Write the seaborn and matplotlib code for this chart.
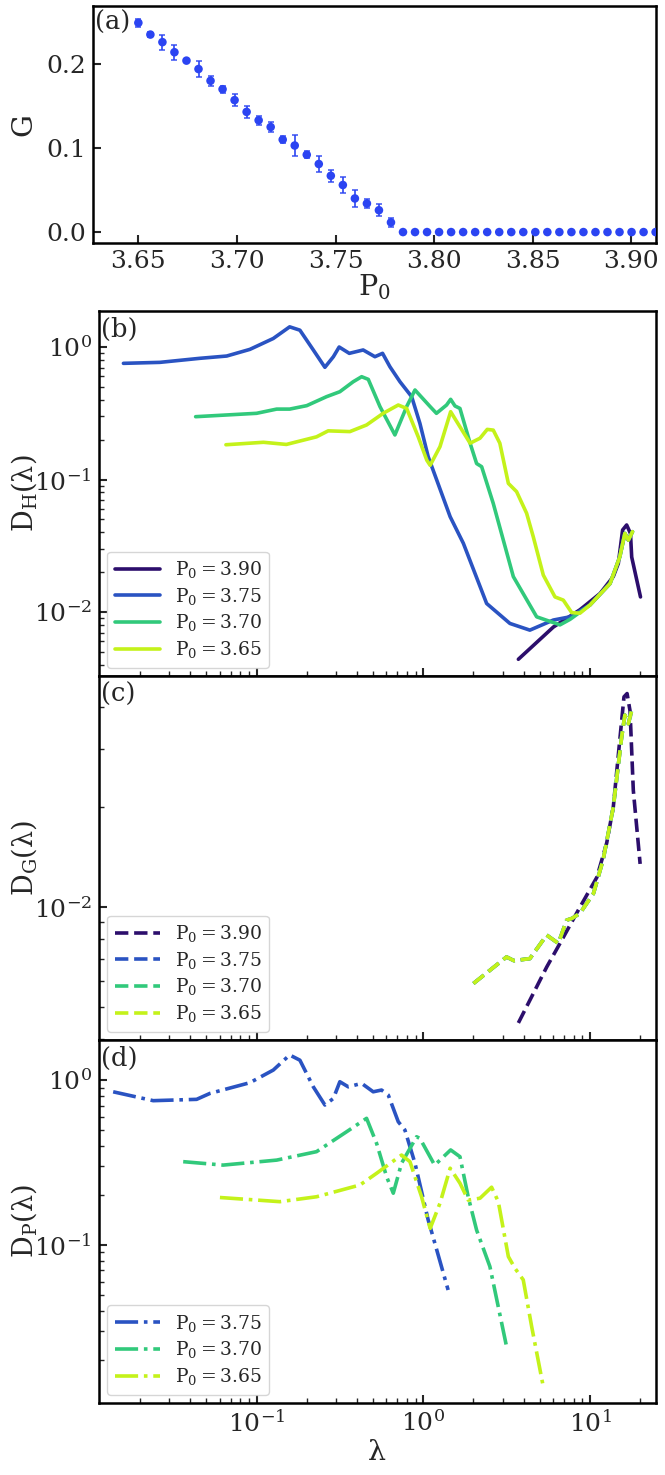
import numpy as np
import pandas as pd
import matplotlib
matplotlib.use("Agg")
import matplotlib.pyplot as plt
import seaborn as sns
from matplotlib.ticker import LogLocator, NullFormatter, FixedLocator, FormatStrFormatter

sns.set_style("ticks")
plt.rcParams["font.family"] = ["DejaVu Serif"]
plt.rcParams["mathtext.fontset"] = "dejavuserif"

# ---------------- data: panel (a) ----------------
P0_grid = [3.6500, 3.6561, 3.6622, 3.6683, 3.6744, 3.6805, 3.6866, 3.6927, 3.6988, 3.7049,
           3.7110, 3.7171, 3.7232, 3.7293, 3.7354, 3.7415, 3.7476, 3.7537, 3.7598, 3.7659,
           3.7720, 3.7781, 3.7842, 3.7903, 3.7964, 3.8025, 3.8086, 3.8147, 3.8208, 3.8269,
           3.8330, 3.8391, 3.8452, 3.8513, 3.8574, 3.8635, 3.8696, 3.8757, 3.8818, 3.8879,
           3.8940, 3.9001, 3.9062, 3.9123]
G_vals = [0.249, 0.235, 0.226, 0.214, 0.204, 0.194, 0.180, 0.170, 0.157, 0.143,
          0.133, 0.125, 0.110, 0.103, 0.092, 0.081, 0.067, 0.056, 0.040, 0.034,
          0.026, 0.0115] + [0.0] * 22
G_err = [0.005, 0.003, 0.009, 0.009, 0.002, 0.010, 0.006, 0.004, 0.007, 0.007,
         0.005, 0.006, 0.004, 0.013, 0.004, 0.010, 0.007, 0.009, 0.010, 0.005,
         0.007, 0.005] + [0.0] * 22

# ---------------- data: panel (b)  D_H ----------------
bH390_x = [3.72, 6.03, 8.71, 11.5, 13.8, 14.8, 15.7, 16.6, 17.5, 17.8, 20.1]
bH390_y = [0.0044, 0.0077, 0.0104, 0.0138, 0.0185, 0.0233, 0.0416, 0.0454, 0.0392, 0.026, 0.013]

bH375_x = [0.0159, 0.0263, 0.0458, 0.0662, 0.0912, 0.126, 0.158, 0.182, 0.219, 0.257,
           0.289, 0.313, 0.360, 0.436, 0.513, 0.570, 0.631, 0.725, 0.852, 0.955,
           1.07, 1.45, 1.74, 2.40, 3.31, 4.36, 6.03, 7.59, 10.0, 13.2, 15.1, 16.2, 17.0, 18.0]
bH375_y = [0.753, 0.766, 0.822, 0.855, 0.96, 1.16, 1.42, 1.34, 0.95, 0.703,
           0.845, 1.0, 0.896, 0.95, 0.845, 0.896, 0.71, 0.547, 0.422, 0.265,
           0.149, 0.0524, 0.033, 0.0116, 0.0082, 0.0073, 0.0087, 0.0092, 0.0113, 0.0164,
           0.0261, 0.0392, 0.0349, 0.0404]

bH370_x = [0.0431, 0.100, 0.132, 0.158, 0.200, 0.263, 0.316, 0.380, 0.427, 0.468,
           0.550, 0.676, 0.795, 0.892, 1.10, 1.20, 1.38, 1.46, 1.55, 1.66,
           1.91, 2.09, 2.24, 2.63, 3.47, 4.79, 6.61, 7.59, 10.0, 13.2, 15.1, 16.2, 17.0, 18.0]
bH370_y = [0.298, 0.316, 0.34, 0.34, 0.361, 0.422, 0.46, 0.547, 0.597, 0.57,
           0.355, 0.217, 0.355, 0.474, 0.355, 0.316, 0.365, 0.403, 0.359, 0.344,
           0.188, 0.132, 0.125, 0.066, 0.0185, 0.0092, 0.008, 0.0088, 0.0113, 0.0164,
           0.0261, 0.0392, 0.0349, 0.0404]

bH365_x = [0.0655, 0.110, 0.151, 0.229, 0.269, 0.363, 0.457, 0.575, 0.708, 0.795,
           0.933, 1.05, 1.10, 1.26, 1.46, 1.66, 1.91, 2.19, 2.42, 2.63,
           2.88, 3.24, 3.63, 4.17, 4.57, 5.25, 6.17, 6.92, 7.77, 8.71,
           10.0, 13.2, 15.1, 16.2, 17.0, 18.0]
bH365_y = [0.183, 0.191, 0.184, 0.21, 0.233, 0.23, 0.258, 0.316, 0.365, 0.344,
           0.21, 0.14, 0.128, 0.177, 0.325, 0.25, 0.188, 0.205, 0.239, 0.236,
           0.188, 0.0935, 0.081, 0.0556, 0.037, 0.019, 0.013, 0.0123, 0.0099, 0.0098,
           0.0113, 0.0164, 0.0261, 0.0392, 0.0349, 0.0404]

# ---------------- data: panel (c)  D_G ----------------
cG390_x = [3.72, 5.50, 6.61, 8.71, 11.0, 12.6, 13.8, 15.1, 16.0, 16.7, 17.4, 18.2, 20.0]
cG390_y = [0.00448, 0.0066, 0.00778, 0.0100, 0.0123, 0.0156, 0.0200, 0.0319, 0.0430,
           0.0440, 0.0390, 0.0225, 0.0135]
cG_x = [2.0, 3.16, 3.5, 4.36, 5.50, 6.46, 7.25, 7.8, 8.71, 10.5, 12.0, 13.8, 15.5,
        16.2, 17.0, 17.8]
cG375_y = [0.00589, 0.00708, 0.00690, 0.00700, 0.00824, 0.00778, 0.00914, 0.00925,
           0.00958, 0.0110, 0.0139, 0.0200, 0.0326, 0.0379, 0.0357, 0.0392]
cG370_y = [0.00589, 0.00708, 0.00690, 0.00700, 0.00824, 0.00778, 0.00914, 0.00925,
           0.00958, 0.0110, 0.0139, 0.0200, 0.0326, 0.0379, 0.0357, 0.0392]
cG365_y = [0.00589, 0.00708, 0.00690, 0.00700, 0.00824, 0.00778, 0.00914, 0.00925,
           0.00958, 0.0110, 0.0139, 0.0200, 0.0326, 0.0379, 0.0357, 0.0392]

# ---------------- data: panel (d)  D_P ----------------
dP375_x = [0.0138, 0.024, 0.0437, 0.0525, 0.0912, 0.126, 0.158, 0.182, 0.219, 0.257,
           0.289, 0.316, 0.355, 0.427, 0.501, 0.562, 0.617, 0.708, 0.776, 0.892,
           1.07, 1.10, 1.41]
dP375_y = [0.849, 0.75, 0.764, 0.83, 0.964, 1.15, 1.42, 1.32, 0.91, 0.706,
           0.774, 0.977, 0.91, 0.955, 0.849, 0.87, 0.811, 0.559, 0.498, 0.313,
           0.142, 0.129, 0.0533]
dP370_x = [0.0363, 0.063, 0.132, 0.229, 0.347, 0.457, 0.525, 0.603, 0.661, 0.741,
           0.912, 0.955, 1.17, 1.26, 1.46, 1.66, 1.86, 2.09, 2.51, 3.16]
dP370_y = [0.32, 0.305, 0.327, 0.368, 0.486, 0.586, 0.413, 0.259, 0.206, 0.313,
           0.453, 0.443, 0.305, 0.327, 0.377, 0.343, 0.196, 0.123, 0.074, 0.0242]
dP365_x = [0.0603, 0.138, 0.229, 0.417, 0.525, 0.741, 0.832, 0.977, 1.10, 1.26,
           1.45, 1.66, 1.86, 2.19, 2.57, 2.82, 3.24, 3.55, 3.98, 4.47, 5.25]
dP365_y = [0.194, 0.183, 0.196, 0.231, 0.272, 0.351, 0.32, 0.196, 0.126, 0.179,
           0.292, 0.237, 0.187, 0.192, 0.224, 0.183, 0.085, 0.0722, 0.0614, 0.032, 0.0138]

labels = [r"$\mathrm{P_0 = 3.90}$", r"$\mathrm{P_0 = 3.75}$",
          r"$\mathrm{P_0 = 3.70}$", r"$\mathrm{P_0 = 3.65}$"]
colors = ["#2c0e6c", "#2a53c2", "#31c97b", "#c4f21a"]

# ---------------- figure ----------------
W, H = 665, 1475
fig = plt.figure(figsize=(W / 100, H / 100), dpi=100)

def rect(l, t, r, b):
    return [l / W, 1 - b / H, (r - l) / W, (b - t) / H]

ax_a = fig.add_axes(rect(93, 6, 656, 243))
ax_b = fig.add_axes(rect(98.7, 311, 656, 676))
ax_c = fig.add_axes(rect(98.7, 676, 656, 1040), sharex=ax_b)
ax_d = fig.add_axes(rect(98.7, 1040, 656, 1403), sharex=ax_b)

TICK = 18
LAB = 19.5
LEG = 13.5
PAN = 18.5
blue = "#2b44f2"

# panel (a)
ax_a.errorbar(P0_grid, G_vals, yerr=G_err, fmt="none", ecolor=blue, elinewidth=1.4,
              capsize=2.5, capthick=1.2, alpha=0.85)
sns.scatterplot(x=P0_grid, y=G_vals, ax=ax_a, color=blue, s=38, edgecolor="none",
                linewidth=0, zorder=3)
ax_a.set_xlim(3.627, 3.9125)
ax_a.set_ylim(-0.013, 0.269)
ax_a.xaxis.set_major_locator(FixedLocator([3.65, 3.70, 3.75, 3.80, 3.85, 3.90]))
ax_a.xaxis.set_major_formatter(FormatStrFormatter("%.2f"))
ax_a.yaxis.set_major_locator(FixedLocator([0.0, 0.1, 0.2]))
ax_a.yaxis.set_major_formatter(FormatStrFormatter("%.1f"))
ax_a.set_xlabel(r"$\mathrm{P_0}$", fontsize=LAB + 1, labelpad=0)
ax_a.set_ylabel("G", fontsize=LAB + 1)
ax_a.yaxis.set_label_coords(-0.098, 0.5)
ax_a.text(0.004, 0.985, "(a)", transform=ax_a.transAxes, fontsize=PAN, va="top", ha="left")

# panel (b)
for xs, ys, c, lab in [(bH390_x, bH390_y, colors[0], labels[0]),
                       (bH375_x, bH375_y, colors[1], labels[1]),
                       (bH370_x, bH370_y, colors[2], labels[2]),
                       (bH365_x, bH365_y, colors[3], labels[3])]:
    sns.lineplot(x=xs, y=ys, ax=ax_b, color=c, lw=2.6, sort=False, estimator=None, label=lab)
ax_b.set_ylim(0.00329, 1.87)

# panel (c)
for xs, ys, c, lab in [(cG390_x, cG390_y, colors[0], labels[0]),
                       (cG_x, cG375_y, colors[1], labels[1]),
                       (cG_x, cG370_y, colors[2], labels[2]),
                       (cG_x, cG365_y, colors[3], labels[3])]:
    sns.lineplot(x=xs, y=ys, ax=ax_c, color=c, lw=2.6, ls="--", sort=False,
                 estimator=None, label=lab)
ax_c.set_ylim(0.00398, 0.0497)

# panel (d)
for xs, ys, c, lab in [(dP375_x, dP375_y, colors[1], labels[1]),
                       (dP370_x, dP370_y, colors[2], labels[2]),
                       (dP365_x, dP365_y, colors[3], labels[3])]:
    sns.lineplot(x=xs, y=ys, ax=ax_d, color=c, lw=2.6, ls="-.", sort=False,
                 estimator=None, label=lab)
ax_d.set_ylim(0.011, 1.75)

for ax, lab, letter in [(ax_b, "D$_\\mathrm{H}$(λ)", "(b)"),
                        (ax_c, "D$_\\mathrm{G}$(λ)", "(c)"),
                        (ax_d, "D$_\\mathrm{P}$(λ)", "(d)")]:
    ax.set_xscale("log")
    ax.set_yscale("log")
    ax.yaxis.set_major_locator(LogLocator(base=10))
    ax.yaxis.set_minor_locator(LogLocator(base=10, subs=np.arange(2, 10)))
    ax.yaxis.set_minor_formatter(NullFormatter())
    ax.xaxis.set_minor_locator(LogLocator(base=10, subs=np.arange(2, 10)))
    ax.xaxis.set_minor_formatter(NullFormatter())
    ax.set_ylabel(lab, fontsize=LAB)
    ax.yaxis.set_label_coords(-0.108, 0.5)
    ax.text(0.004, 0.985, letter, transform=ax.transAxes, fontsize=PAN, va="top", ha="left")
    leg = ax.legend(loc="lower left", fontsize=LEG, frameon=True, handlelength=2.4,
                    borderaxespad=0.45, labelspacing=0.3, fancybox=True)
    leg.get_frame().set_edgecolor("#cccccc")

ax_b.set_xlim(0.0113, 24.9)
ax_d.set_xlabel("λ", fontsize=LAB + 1, labelpad=2)
ax_b.tick_params(axis="x", labelbottom=False)
ax_c.tick_params(axis="x", labelbottom=False)

for ax in [ax_a, ax_b, ax_c, ax_d]:
    ax.tick_params(which="major", direction="in", length=6, width=1.5,
                   labelsize=TICK, top=False, right=False, pad=5)
    ax.tick_params(which="minor", direction="in", length=3.5, width=1.0,
                   top=False, right=False)
    for s in ax.spines.values():
        s.set_linewidth(1.8)
        s.set_color("black")
        s.set_visible(True)

fig.savefig("out.png", dpi=100)
